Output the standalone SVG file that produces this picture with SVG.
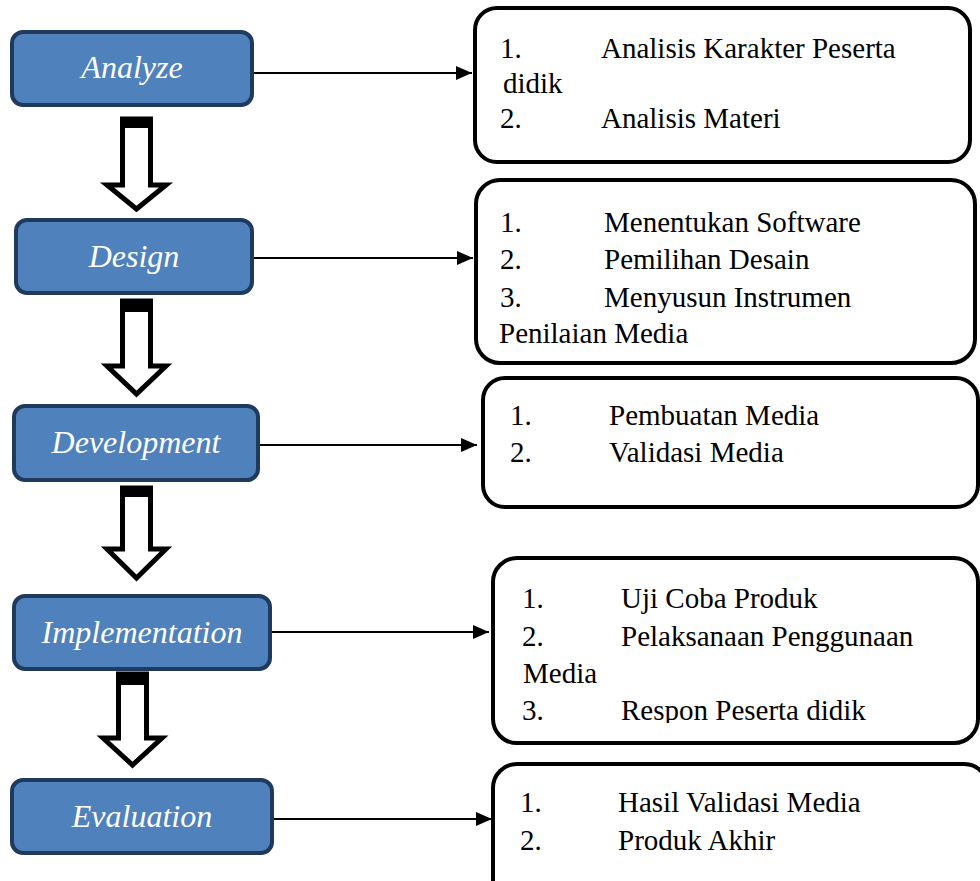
<svg xmlns="http://www.w3.org/2000/svg" width="980" height="881" viewBox="0 0 980 881">
<style>
.stage{fill:#4f81bd;stroke:#1f3a5c;stroke-width:4}
.stxt{font-family:"Liberation Serif","Times New Roman",serif;font-style:italic;font-size:32px;fill:#ffffff;text-anchor:middle}
.box{fill:#ffffff;stroke:#000000;stroke-width:4}
.btxt{font-family:"Liberation Serif","Times New Roman",serif;font-size:29px;fill:#000000}
.link{stroke:#000000;stroke-width:2;fill:none}
.blk{fill:#ffffff;stroke:#000000;stroke-width:5;stroke-linejoin:miter}
</style>
<defs>
<marker id="ah" markerWidth="16" markerHeight="14" refX="16" refY="7" orient="auto" markerUnits="userSpaceOnUse">
<path d="M0,0 L16,7 L0,14 z" fill="#000000"/>
</marker>
<clipPath id="clip4"><rect x="480" y="540" width="520" height="183"/></clipPath>
</defs>
<rect width="980" height="881" fill="#ffffff"/>

<g id="connectors">
<line class="link" x1="252" y1="73" x2="472" y2="73" marker-end="url(#ah)"/>
<line class="link" x1="252" y1="258" x2="473" y2="258" marker-end="url(#ah)"/>
<line class="link" x1="258" y1="445" x2="477" y2="445" marker-end="url(#ah)"/>
<line class="link" x1="270" y1="632" x2="489" y2="632" marker-end="url(#ah)"/>
<line class="link" x1="272" y1="819" x2="492" y2="819" marker-end="url(#ah)"/>
<g id="flow1">
<polygon class="blk" points="122.5,119 150.5,119 150.5,185 166,185 136.5,209 107,185 122.5,185"/>
<rect x="120" y="117" width="33" height="11" fill="#000000"/>
</g>
<g id="flow2">
<polygon class="blk" points="122.5,301 150.5,301 150.5,366 166,366 136.5,394 107,366 122.5,366"/>
<rect x="120" y="299" width="33" height="13" fill="#000000"/>
</g>
<g id="flow3">
<polygon class="blk" points="122.5,488 150.5,488 150.5,549 166,549 136.5,578 107,549 122.5,549"/>
<rect x="120" y="486" width="33" height="11" fill="#000000"/>
</g>
<g id="flow4">
<polygon class="blk" points="118.5,674 146.5,674 146.5,738 162,738 132.5,765 103,738 118.5,738"/>
<rect x="116" y="672" width="33" height="13" fill="#000000"/>
</g>
</g>

<g id="analyze">
<rect class="stage" x="12" y="32" width="240" height="73" rx="11"/>
<text class="stxt" x="132" y="78">Analyze</text>
</g>
<g id="design">
<rect class="stage" x="16" y="220" width="236" height="73" rx="11"/>
<text class="stxt" x="134" y="267">Design</text>
</g>
<g id="development">
<rect class="stage" x="14" y="406" width="244" height="74" rx="11"/>
<text class="stxt" x="136" y="453">Development</text>
</g>
<g id="implementation">
<rect class="stage" x="14" y="596" width="256" height="73" rx="11"/>
<text class="stxt" x="142" y="643">Implementation</text>
</g>
<g id="evaluation">
<rect class="stage" x="12" y="780" width="260" height="73" rx="11"/>
<text class="stxt" x="142" y="827">Evaluation</text>
</g>

<g id="box-analyze">
<rect class="box" x="475" y="8" width="495" height="154" rx="22"/>
<text class="btxt" x="500" y="58">1.</text>
<text class="btxt" x="601" y="58">Analisis Karakter Peserta</text>
<text class="btxt" x="503" y="93">didik</text>
<text class="btxt" x="500" y="128">2.</text>
<text class="btxt" x="601" y="128">Analisis Materi</text>
</g>
<g id="box-design">
<rect class="box" x="476" y="180" width="499" height="183" rx="24"/>
<text class="btxt" x="500" y="232">1.</text>
<text class="btxt" x="604" y="232">Menentukan Software</text>
<text class="btxt" x="500" y="269">2.</text>
<text class="btxt" x="604" y="269">Pemilihan Desain</text>
<text class="btxt" x="500" y="307">3.</text>
<text class="btxt" x="604" y="307">Menyusun Instrumen</text>
<text class="btxt" x="499" y="343">Penilaian Media</text>
</g>
<g id="box-development">
<rect class="box" x="483" y="378" width="495" height="129" rx="22"/>
<text class="btxt" x="510" y="425">1.</text>
<text class="btxt" x="609" y="425">Pembuatan Media</text>
<text class="btxt" x="510" y="462">2.</text>
<text class="btxt" x="609" y="462">Validasi Media</text>
</g>
<g id="box-implementation">
<rect class="box" x="493" y="558" width="485" height="185" rx="24"/>
<g clip-path="url(#clip4)">
<text class="btxt" x="522" y="608">1.</text>
<text class="btxt" x="621" y="608">Uji Coba Produk</text>
<text class="btxt" x="522" y="646">2.</text>
<text class="btxt" x="621" y="646">Pelaksanaan Penggunaan</text>
<text class="btxt" x="523" y="683">Media</text>
<text class="btxt" x="522" y="720">3.</text>
<text class="btxt" x="621" y="720">Respon Peserta didik</text>
</g>
</g>
<g id="box-evaluation">
<rect class="box" x="493" y="764" width="495" height="140" rx="24"/>
<text class="btxt" x="520" y="812">1.</text>
<text class="btxt" x="618" y="812">Hasil Validasi Media</text>
<text class="btxt" x="520" y="850">2.</text>
<text class="btxt" x="618" y="850">Produk Akhir</text>
</g>
</svg>
